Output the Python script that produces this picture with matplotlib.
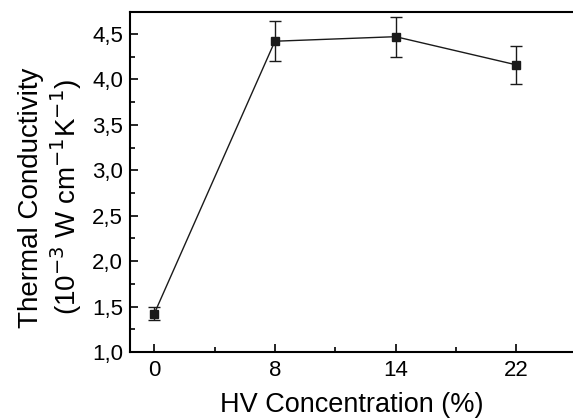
import matplotlib
matplotlib.use("Agg")
import matplotlib.pyplot as plt
from matplotlib.ticker import FixedLocator, MultipleLocator, FuncFormatter

plt.rcParams['font.family'] = ['Liberation Sans', 'DejaVu Sans']

categories = ["0", "8", "14", "22"]
values = [1.42, 4.42, 4.47, 4.16]
errors = [0.07, 0.22, 0.22, 0.21]

fig = plt.figure(figsize=(5.73, 4.19), dpi=100)
ax = fig.add_axes([0.227, 0.16, 0.773, 0.811])

x = list(range(len(categories)))
ax.errorbar(x, values, yerr=errors, color='#1a1a1a', lw=1.0, marker='s',
            markersize=6, capsize=4, elinewidth=1.0, capthick=1.0)

ax.set_xlim(-0.2, 3.47)
ax.set_ylim(1.0, 4.74)
ax.xaxis.set_major_locator(FixedLocator(x))
ax.set_xticklabels(categories)
ax.xaxis.set_minor_locator(MultipleLocator(0.5))
ax.yaxis.set_major_locator(MultipleLocator(0.5))
ax.yaxis.set_minor_locator(MultipleLocator(0.25))
ax.yaxis.set_major_formatter(FuncFormatter(lambda v, p: f"{v:.1f}".replace('.', ',')))

ax.spines['right'].set_visible(False)
for s in ['left', 'bottom', 'top']:
    ax.spines[s].set_linewidth(1.5)
ax.tick_params(which='both', direction='in', labelsize=16, width=1.2, top=False)
ax.tick_params(which='major', length=6)
ax.tick_params(which='minor', length=3.5)
ax.tick_params(axis='x', pad=6)
ax.tick_params(axis='y', pad=5)

ax.set_xlabel("HV Concentration (%)", fontsize=19.5, labelpad=8)
ax.set_ylabel("Thermal Conductivity\n(10$^{-3}$ W cm$^{-1}$K$^{-1}$)", fontsize=20,
              labelpad=6, linespacing=1.15)
ax.yaxis.label.set_y(0.455)

fig.savefig("out.png", dpi=100)
